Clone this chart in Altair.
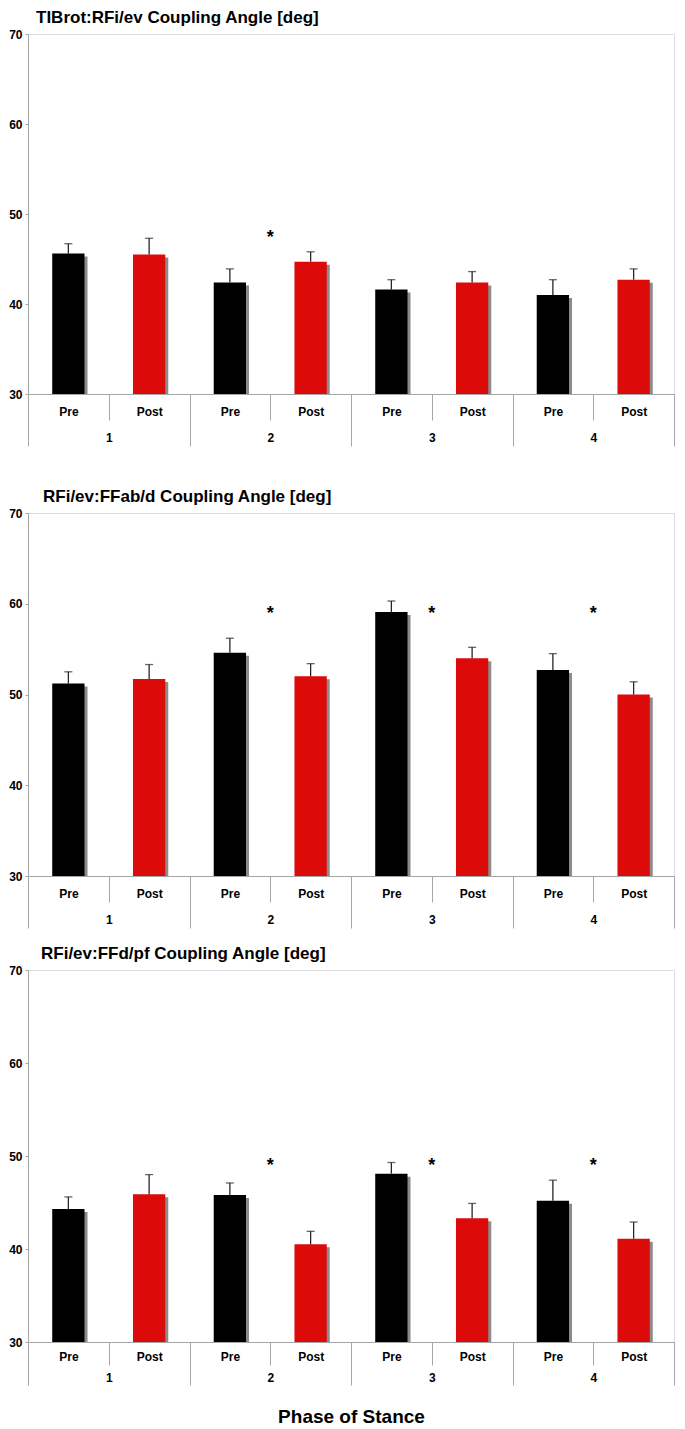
import altair as alt
import pandas as pd

# ---------------- data ----------------
phases = ["1", "2", "3", "4"]
conditions = ["Pre", "Post"]

titles = [
    "TIBrot:RFi/ev Coupling Angle [deg]",
    "RFi/ev:FFab/d Coupling Angle [deg]",
    "RFi/ev:FFd/pf Coupling Angle [deg]",
]

# order: phase1 Pre, phase1 Post, phase2 Pre, ...
p1_mean = [45.6, 45.5, 42.4, 44.7, 41.6, 42.4, 41.0, 42.7]
p1_sd = [1.1, 1.8, 1.5, 1.1, 1.1, 1.2, 1.7, 1.2]
p1_star_phases = ["2"]
p1_star_level = 47.9

p2_mean = [51.2, 51.7, 54.6, 52.0, 59.1, 54.0, 52.7, 50.0]
p2_sd = [1.3, 1.6, 1.6, 1.4, 1.2, 1.2, 1.8, 1.4]
p2_star_phases = ["2", "3", "4"]
p2_star_level = 59.4

p3_mean = [44.3, 45.9, 45.8, 40.5, 48.1, 43.3, 45.2, 41.1]
p3_sd = [1.3, 2.1, 1.3, 1.4, 1.2, 1.6, 2.2, 1.8]
p3_star_phases = ["2", "3", "4"]
p3_star_level = 49.5

y_ticks = [30, 40, 50, 60, 70]
x_title = "Phase of Stance"

# ---------------- styling ----------------
FONT = "Liberation Sans"
RED = "#dc0a08"
GRID = "#a6a6a6"
W = 646


def bar_table(means, sds):
    rows = []
    i = 0
    for ph in phases:
        for c in conditions:
            rows.append({"phase": ph, "cond": c, "key": ph + "|" + c,
                         "mean": means[i], "sd": sds[i]})
            i += 1
    return pd.DataFrame(rows)


def y_enc(field):
    return alt.Y(
        field + ":Q",
        scale=alt.Scale(domain=[y_ticks[0], y_ticks[-1]], nice=False, zero=False),
        axis=alt.Axis(values=y_ticks, title=None, grid=False, labelFont=FONT,
                      labelFontSize=12, labelFontWeight="bold", labelColor="black",
                      tickSize=3, tickColor=GRID, domainColor=GRID, labelPadding=3),
    )


def panel(idx, means, sds, star_phases, star_level, height, short_tick, long_tick,
          title_dx, axis_title=None):
    df = bar_table(means, sds)
    keys = list(df["key"])
    xk = alt.X("key:N", sort=keys,
               scale=alt.Scale(domain=keys, paddingInner=0, paddingOuter=0),
               axis=alt.Axis(title=None, orient="bottom",
                             labelExpr="split(datum.label, '|')[1]",
                             labelAngle=0, tickBand="extent", tickSize=short_tick,
                             tickColor=GRID, domainColor=GRID, labelPadding=-14,
                             labelFont=FONT, labelFontSize=12, labelFontWeight="bold",
                             labelColor="black", grid=False))
    base = alt.Chart(df).transform_calculate(top="datum.mean + datum.sd").encode(x=xk)
    bw = alt.RelativeBandSize(0.4)
    shadow = base.mark_bar(color="#8c8c8c", xOffset=3, yOffset=3, width=bw).encode(
        y=y_enc("mean"), y2=alt.datum(y_ticks[0]))
    bars = base.mark_bar(width=bw).encode(
        y=y_enc("mean"), y2=alt.datum(y_ticks[0]),
        color=alt.Color("cond:N", scale=alt.Scale(domain=conditions, range=["#000000", RED]),
                        legend=None))
    err = base.mark_rule(color="#262626", strokeWidth=1.3).encode(
        y=y_enc("mean"), y2="top:Q")
    cap = base.mark_tick(color="#262626", size=8, thickness=1.3).encode(y=y_enc("top"))
    inner = alt.layer(shadow, bars, err, cap)

    sdf = pd.DataFrame({"phase": star_phases, "level": [star_level] * len(star_phases)})
    gax = dict(title=axis_title, orient="bottom", labelAngle=0, tickBand="extent",
               tickSize=long_tick, tickColor=GRID, domain=False,
               labelPadding=-14 if long_tick > 45 else -13,
               labelFont=FONT, labelFontSize=12, labelFontWeight="bold",
               labelColor="black", grid=False)
    if axis_title:
        gax.update(titleFont=FONT, titleFontSize=19, titleFontWeight="bold",
                   titleColor="black", titlePadding=22)
    stars = alt.Chart(sdf).mark_text(text="*", fontSize=18, fontWeight="bold",
                                     font=FONT, baseline="middle", dy=5,
                                     color="black").encode(
        x=alt.X("phase:N", sort=phases,
                scale=alt.Scale(domain=phases, paddingInner=0, paddingOuter=0),
                axis=alt.Axis(**gax)),
        y=y_enc("level"),
    )
    return alt.layer(inner, stars).resolve_scale(x="independent").properties(
        width=W, height=height,
        title=alt.TitleParams(titles[idx], anchor="start", frame="group", dx=title_dx,
                              offset=1, font=FONT, fontSize=17, fontWeight="bold",
                              color="black"),
    )


c1 = panel(0, p1_mean, p1_sd, p1_star_phases, p1_star_level, 360, 26, 52, 8)
c2 = panel(1, p2_mean, p2_sd, p2_star_phases, p2_star_level, 363, 26, 52, 15)
c3 = panel(2, p3_mean, p3_sd, p3_star_phases, p3_star_level, 372, 23, 43, 13,
           axis_title=x_title)

chart = alt.vconcat(c1, alt.vconcat(c2, c3, spacing=15), spacing=40).properties(
    padding=0
).configure_view(stroke="transparent", strokeWidth=0).configure(background="white")

chart.save("out.html", embed_options={"renderer": "svg", "actions": False})
